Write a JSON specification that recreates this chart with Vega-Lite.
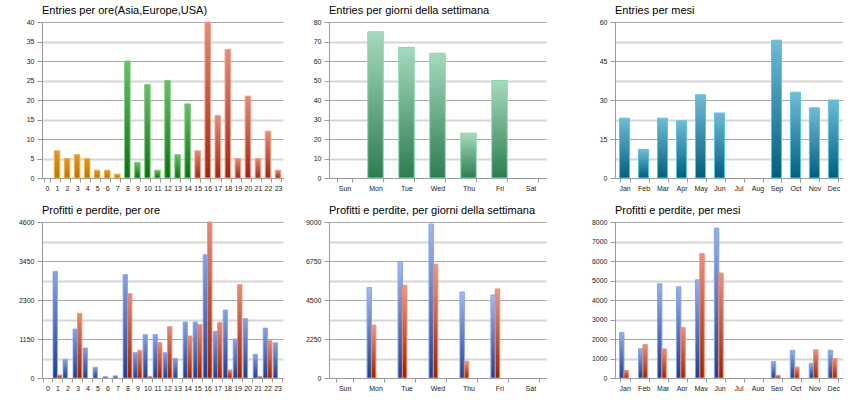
{
  "$schema": "https://vega.github.io/schema/vega-lite/v6.json",
  "background": "white",
  "padding": {"left": 0, "top": 5, "right": 0, "bottom": 0},
  "spacing": {"row": 14, "column": 10},
  "columns": 3,
  "config": {
    "font": "Liberation Sans",
    "view": {"stroke": null},
    "title": {"fontSize": 11, "fontWeight": "normal", "anchor": "start", "frame": "group", "color": "#000000", "offset": 2},
    "axis": {"labelFontSize": 7, "labelColor": "#222222", "domainColor": "#9a9a9a", "tickColor": "#9a9a9a"},
    "axisX": {"tickBand": "extent", "tickSize": 4, "labelPadding": 2, "grid": false, "labelAngle": 0},
    "axisY": {"tickSize": 5, "labelPadding": 3, "grid": true, "format": "d"}
  },
  "datasets": {
    "ore": [
      {"ora": 1, "entries": 7, "regione": "Asia"},
      {"ora": 2, "entries": 5, "regione": "Asia"},
      {"ora": 3, "entries": 6, "regione": "Asia"},
      {"ora": 4, "entries": 5, "regione": "Asia"},
      {"ora": 5, "entries": 2, "regione": "Asia"},
      {"ora": 6, "entries": 2, "regione": "Asia"},
      {"ora": 7, "entries": 1, "regione": "Asia"},
      {"ora": 8, "entries": 30, "regione": "Europe"},
      {"ora": 9, "entries": 4, "regione": "Europe"},
      {"ora": 10, "entries": 24, "regione": "Europe"},
      {"ora": 11, "entries": 2, "regione": "Europe"},
      {"ora": 12, "entries": 25, "regione": "Europe"},
      {"ora": 13, "entries": 6, "regione": "Europe"},
      {"ora": 14, "entries": 19, "regione": "Europe"},
      {"ora": 15, "entries": 7, "regione": "USA"},
      {"ora": 16, "entries": 40, "regione": "USA"},
      {"ora": 17, "entries": 16, "regione": "USA"},
      {"ora": 18, "entries": 33, "regione": "USA"},
      {"ora": 19, "entries": 5, "regione": "USA"},
      {"ora": 20, "entries": 21, "regione": "USA"},
      {"ora": 21, "entries": 5, "regione": "USA"},
      {"ora": 22, "entries": 12, "regione": "USA"},
      {"ora": 23, "entries": 2, "regione": "USA"}
    ],
    "giorni": [
      {"giorno": "Mon", "entries": 75},
      {"giorno": "Tue", "entries": 67},
      {"giorno": "Wed", "entries": 64},
      {"giorno": "Thu", "entries": 23},
      {"giorno": "Fri", "entries": 50}
    ],
    "mesi": [
      {"mese": "Jan", "entries": 23},
      {"mese": "Feb", "entries": 11},
      {"mese": "Mar", "entries": 23},
      {"mese": "Apr", "entries": 22},
      {"mese": "May", "entries": 32},
      {"mese": "Jun", "entries": 25},
      {"mese": "Sep", "entries": 53},
      {"mese": "Oct", "entries": 33},
      {"mese": "Nov", "entries": 27},
      {"mese": "Dec", "entries": 30}
    ],
    "pl_ore": [
      {"ora": 1, "tipo": "Profitti", "valore": 3145}, {"ora": 1, "tipo": "Perdite", "valore": 90},
      {"ora": 2, "tipo": "Profitti", "valore": 550},
      {"ora": 3, "tipo": "Profitti", "valore": 1445}, {"ora": 3, "tipo": "Perdite", "valore": 1907},
      {"ora": 4, "tipo": "Profitti", "valore": 885},
      {"ora": 5, "tipo": "Profitti", "valore": 315},
      {"ora": 6, "tipo": "Profitti", "valore": 40},
      {"ora": 7, "tipo": "Profitti", "valore": 65},
      {"ora": 8, "tipo": "Profitti", "valore": 3047}, {"ora": 8, "tipo": "Perdite", "valore": 2487},
      {"ora": 9, "tipo": "Profitti", "valore": 747}, {"ora": 9, "tipo": "Perdite", "valore": 816},
      {"ora": 10, "tipo": "Profitti", "valore": 1278}, {"ora": 10, "tipo": "Perdite", "valore": 50},
      {"ora": 11, "tipo": "Profitti", "valore": 1278}, {"ora": 11, "tipo": "Perdite", "valore": 1042},
      {"ora": 12, "tipo": "Profitti", "valore": 747}, {"ora": 12, "tipo": "Perdite", "valore": 1514},
      {"ora": 13, "tipo": "Profitti", "valore": 580},
      {"ora": 14, "tipo": "Profitti", "valore": 1651}, {"ora": 14, "tipo": "Perdite", "valore": 1238},
      {"ora": 15, "tipo": "Profitti", "valore": 1651}, {"ora": 15, "tipo": "Perdite", "valore": 1573},
      {"ora": 16, "tipo": "Profitti", "valore": 3637}, {"ora": 16, "tipo": "Perdite", "valore": 4600},
      {"ora": 17, "tipo": "Profitti", "valore": 1376}, {"ora": 17, "tipo": "Perdite", "valore": 1632},
      {"ora": 18, "tipo": "Profitti", "valore": 2005}, {"ora": 18, "tipo": "Perdite", "valore": 236},
      {"ora": 19, "tipo": "Profitti", "valore": 1150}, {"ora": 19, "tipo": "Perdite", "valore": 2752},
      {"ora": 20, "tipo": "Profitti", "valore": 1750},
      {"ora": 21, "tipo": "Profitti", "valore": 698}, {"ora": 21, "tipo": "Perdite", "valore": 50},
      {"ora": 22, "tipo": "Profitti", "valore": 1474}, {"ora": 22, "tipo": "Perdite", "valore": 1101},
      {"ora": 23, "tipo": "Profitti", "valore": 1042}
    ],
    "pl_giorni": [
      {"giorno": "Mon", "tipo": "Profitti", "valore": 5215}, {"giorno": "Mon", "tipo": "Perdite", "valore": 3052},
      {"giorno": "Tue", "tipo": "Profitti", "valore": 6682}, {"giorno": "Tue", "tipo": "Perdite", "valore": 5350},
      {"giorno": "Wed", "tipo": "Profitti", "valore": 8884}, {"giorno": "Wed", "tipo": "Perdite", "valore": 6567},
      {"giorno": "Thu", "tipo": "Profitti", "valore": 4963}, {"giorno": "Thu", "tipo": "Perdite", "valore": 966},
      {"giorno": "Fri", "tipo": "Profitti", "valore": 4790}, {"giorno": "Fri", "tipo": "Perdite", "valore": 5137}
    ],
    "pl_mesi": [
      {"mese": "Jan", "tipo": "Profitti", "valore": 2340}, {"mese": "Jan", "tipo": "Perdite", "valore": 390},
      {"mese": "Feb", "tipo": "Profitti", "valore": 1500}, {"mese": "Feb", "tipo": "Perdite", "valore": 1710},
      {"mese": "Mar", "tipo": "Profitti", "valore": 4830}, {"mese": "Mar", "tipo": "Perdite", "valore": 1490},
      {"mese": "Apr", "tipo": "Profitti", "valore": 4676}, {"mese": "Apr", "tipo": "Perdite", "valore": 2580},
      {"mese": "May", "tipo": "Profitti", "valore": 5036}, {"mese": "May", "tipo": "Perdite", "valore": 6372},
      {"mese": "Jun", "tipo": "Profitti", "valore": 7690}, {"mese": "Jun", "tipo": "Perdite", "valore": 5379},
      {"mese": "Sep", "tipo": "Profitti", "valore": 840}, {"mese": "Sep", "tipo": "Perdite", "valore": 140},
      {"mese": "Oct", "tipo": "Profitti", "valore": 1420}, {"mese": "Oct", "tipo": "Perdite", "valore": 560},
      {"mese": "Nov", "tipo": "Profitti", "valore": 750}, {"mese": "Nov", "tipo": "Perdite", "valore": 1440},
      {"mese": "Dec", "tipo": "Profitti", "valore": 1420}, {"mese": "Dec", "tipo": "Perdite", "valore": 990}
    ]
  },
  "concat": [
    {
      "width": 241, "height": 156,
      "title": "Entries per ore(Asia,Europe,USA)",
      "data": {"name": "ore"},
      "encoding": {
        "x": {"field": "ora", "type": "ordinal", "title": null,
              "scale": {"domain": [0,1,2,3,4,5,6,7,8,9,10,11,12,13,14,15,16,17,18,19,20,21,22,23], "paddingInner": 0.45, "paddingOuter": 0.22}},
        "y": {"field": "entries", "type": "quantitative", "title": null,
              "scale": {"domain": [0, 40], "nice": false},
              "axis": {"values": [0,5,10,15,20,25,30,35,40], "minExtent": 42,
                       "gridColor": {"condition": {"test": "datum.value % 10 === 0", "value": "#a8a8a8"}, "value": "#d6d6d6"},
                       "gridWidth": {"condition": {"test": "datum.value % 10 === 0", "value": 1}, "value": 2.2}}}
      },
      "layer": [
        {"transform": [{"filter": "datum.regione === 'Asia'"}],
         "mark": {"type": "bar", "stroke": "#f0b24a", "strokeWidth": 1,
                  "fill": {"gradient": "linear", "x1": 0, "y1": 0, "x2": 0, "y2": 1, "stops": [{"offset": 0, "color": "#dc9a2a"}, {"offset": 1, "color": "#c07400"}]}}},
        {"transform": [{"filter": "datum.regione === 'Europe'"}],
         "mark": {"type": "bar", "stroke": "#7fcb7f", "strokeWidth": 1,
                  "fill": {"gradient": "linear", "x1": 0, "y1": 0, "x2": 0, "y2": 1, "stops": [{"offset": 0, "color": "#6cbd6c"}, {"offset": 1, "color": "#0f6e12"}]}}},
        {"transform": [{"filter": "datum.regione === 'USA'"}],
         "mark": {"type": "bar", "stroke": "#f0a08c", "strokeWidth": 1,
                  "fill": {"gradient": "linear", "x1": 0, "y1": 0, "x2": 0, "y2": 1, "stops": [{"offset": 0, "color": "#e28c78"}, {"offset": 1, "color": "#9e2810"}]}}}
      ]
    },
    {
      "width": 217, "height": 156,
      "title": "Entries per giorni della settimana",
      "data": {"name": "giorni"},
      "mark": {"type": "bar", "stroke": "#86d8ab", "strokeWidth": 1,
               "fill": {"gradient": "linear", "x1": 0, "y1": 0, "x2": 0, "y2": 1, "stops": [{"offset": 0, "color": "#a6dabd"}, {"offset": 1, "color": "#2d7c52"}]}},
      "encoding": {
        "x": {"field": "giorno", "type": "nominal", "title": null,
              "scale": {"domain": ["Sun", "Mon", "Tue", "Wed", "Thu", "Fri", "Sat"], "paddingInner": 0.5, "paddingOuter": 0.25}},
        "y": {"field": "entries", "type": "quantitative", "title": null,
              "scale": {"domain": [0, 80], "nice": false},
              "axis": {"values": [0,10,20,30,40,50,60,70,80], "minExtent": 36,
                       "gridColor": {"condition": {"test": "datum.value % 20 === 0", "value": "#a8a8a8"}, "value": "#d6d6d6"},
                       "gridWidth": {"condition": {"test": "datum.value % 20 === 0", "value": 1}, "value": 2.2}}}
      }
    },
    {
      "width": 228, "height": 156,
      "title": "Entries per mesi",
      "data": {"name": "mesi"},
      "mark": {"type": "bar", "stroke": "#5ec3e0", "strokeWidth": 1,
               "fill": {"gradient": "linear", "x1": 0, "y1": 0, "x2": 0, "y2": 1, "stops": [{"offset": 0, "color": "#6fbcd6"}, {"offset": 1, "color": "#005f80"}]}},
      "encoding": {
        "x": {"field": "mese", "type": "nominal", "title": null,
              "scale": {"domain": ["Jan", "Feb", "Mar", "Apr", "May", "Jun", "Jul", "Aug", "Sep", "Oct", "Nov", "Dec"], "paddingInner": 0.47, "paddingOuter": 0.24}},
        "y": {"field": "entries", "type": "quantitative", "title": null,
              "scale": {"domain": [0, 60], "nice": false},
              "axis": {"values": [0,7.5,15,22.5,30,37.5,45,52.5,60], "minExtent": 59,
                       "labelExpr": "datum.value % 15 === 0 ? datum.label : ''",
                       "tickSize": {"condition": {"test": "datum.value % 15 === 0", "value": 5}, "value": 0},
                       "gridColor": {"condition": {"test": "datum.value % 15 === 0", "value": "#a8a8a8"}, "value": "#d6d6d6"},
                       "gridWidth": {"condition": {"test": "datum.value % 15 === 0", "value": 1}, "value": 2.2}}}
      }
    },
    {
      "width": 241, "height": 156,
      "title": "Profitti e perdite, per ore",
      "data": {"name": "pl_ore"},
      "encoding": {
        "x": {"field": "ora", "type": "ordinal", "title": null,
              "scale": {"domain": [0,1,2,3,4,5,6,7,8,9,10,11,12,13,14,15,16,17,18,19,20,21,22,23], "paddingInner": 0.12, "paddingOuter": 0.1}},
        "xOffset": {"field": "tipo", "type": "nominal", "scale": {"domain": ["Profitti", "Perdite"], "paddingInner": 0}},
        "y": {"field": "valore", "type": "quantitative", "title": null,
              "scale": {"domain": [0, 4600], "nice": false},
              "axis": {"values": [0,575,1150,1725,2300,2875,3450,4025,4600], "minExtent": 42,
                       "labelExpr": "datum.value % 1150 === 0 ? datum.label : ''",
                       "tickSize": {"condition": {"test": "datum.value % 1150 === 0", "value": 5}, "value": 0},
                       "gridColor": {"condition": {"test": "datum.value % 1150 === 0", "value": "#a8a8a8"}, "value": "#d6d6d6"},
                       "gridWidth": {"condition": {"test": "datum.value % 1150 === 0", "value": 1}, "value": 2.2}}}
      },
      "layer": [
        {"transform": [{"filter": "datum.tipo === 'Profitti'"}],
         "mark": {"type": "bar", "stroke": "#86a3e6", "strokeWidth": 0.8,
                  "fill": {"gradient": "linear", "x1": 0, "y1": 0, "x2": 0, "y2": 1, "stops": [{"offset": 0, "color": "#86a2e4"}, {"offset": 1, "color": "#1f3f8f"}]}}},
        {"transform": [{"filter": "datum.tipo === 'Perdite'"}],
         "mark": {"type": "bar", "stroke": "#ee8a74", "strokeWidth": 0.8,
                  "fill": {"gradient": "linear", "x1": 0, "y1": 0, "x2": 0, "y2": 1, "stops": [{"offset": 0, "color": "#e68c78"}, {"offset": 1, "color": "#9c2200"}]}}}
      ]
    },
    {
      "width": 217, "height": 156,
      "title": "Profitti e perdite, per giorni della settimana",
      "data": {"name": "pl_giorni"},
      "encoding": {
        "x": {"field": "giorno", "type": "nominal", "title": null,
              "scale": {"domain": ["Sun", "Mon", "Tue", "Wed", "Thu", "Fri", "Sat"], "paddingInner": 0.45, "paddingOuter": 0.23}},
        "xOffset": {"field": "tipo", "type": "nominal", "scale": {"domain": ["Profitti", "Perdite"], "paddingInner": 0.04}},
        "y": {"field": "valore", "type": "quantitative", "title": null,
              "scale": {"domain": [0, 9000], "nice": false},
              "axis": {"values": [0,1125,2250,3375,4500,5625,6750,7875,9000], "minExtent": 36,
                       "labelExpr": "datum.value % 2250 === 0 ? datum.label : ''",
                       "tickSize": {"condition": {"test": "datum.value % 2250 === 0", "value": 5}, "value": 0},
                       "gridColor": {"condition": {"test": "datum.value % 2250 === 0", "value": "#a8a8a8"}, "value": "#d6d6d6"},
                       "gridWidth": {"condition": {"test": "datum.value % 2250 === 0", "value": 1}, "value": 2.2}}}
      },
      "layer": [
        {"transform": [{"filter": "datum.tipo === 'Profitti'"}],
         "mark": {"type": "bar", "stroke": "#86a3e6", "strokeWidth": 1,
                  "fill": {"gradient": "linear", "x1": 0, "y1": 0, "x2": 0, "y2": 1, "stops": [{"offset": 0, "color": "#a3bbef"}, {"offset": 1, "color": "#1f3f8f"}]}}},
        {"transform": [{"filter": "datum.tipo === 'Perdite'"}],
         "mark": {"type": "bar", "stroke": "#ee8a74", "strokeWidth": 1,
                  "fill": {"gradient": "linear", "x1": 0, "y1": 0, "x2": 0, "y2": 1, "stops": [{"offset": 0, "color": "#ec9a86"}, {"offset": 1, "color": "#9c2200"}]}}}
      ]
    },
    {
      "width": 228, "height": 156,
      "title": "Profitti e perdite, per mesi",
      "data": {"name": "pl_mesi"},
      "encoding": {
        "x": {"field": "mese", "type": "nominal", "title": null,
              "scale": {"domain": ["Jan", "Feb", "Mar", "Apr", "May", "Jun", "Jul", "Aug", "Sep", "Oct", "Nov", "Dec"], "paddingInner": 0.46, "paddingOuter": 0.24}},
        "xOffset": {"field": "tipo", "type": "nominal", "scale": {"domain": ["Profitti", "Perdite"], "paddingInner": 0.04}},
        "y": {"field": "valore", "type": "quantitative", "title": null,
              "scale": {"domain": [0, 8000], "nice": false},
              "axis": {"values": [0,1000,2000,3000,4000,5000,6000,7000,8000], "minExtent": 59,
                       "gridColor": {"condition": {"test": "datum.value % 2000 === 0", "value": "#a8a8a8"}, "value": "#d6d6d6"},
                       "gridWidth": {"condition": {"test": "datum.value % 2000 === 0", "value": 1}, "value": 2.2}}}
      },
      "layer": [
        {"transform": [{"filter": "datum.tipo === 'Profitti'"}],
         "mark": {"type": "bar", "stroke": "#86a3e6", "strokeWidth": 1,
                  "fill": {"gradient": "linear", "x1": 0, "y1": 0, "x2": 0, "y2": 1, "stops": [{"offset": 0, "color": "#96b0ec"}, {"offset": 1, "color": "#1f3f8f"}]}}},
        {"transform": [{"filter": "datum.tipo === 'Perdite'"}],
         "mark": {"type": "bar", "stroke": "#ee8a74", "strokeWidth": 1,
                  "fill": {"gradient": "linear", "x1": 0, "y1": 0, "x2": 0, "y2": 1, "stops": [{"offset": 0, "color": "#e89280"}, {"offset": 1, "color": "#9c2200"}]}}}
      ]
    }
  ]
}
